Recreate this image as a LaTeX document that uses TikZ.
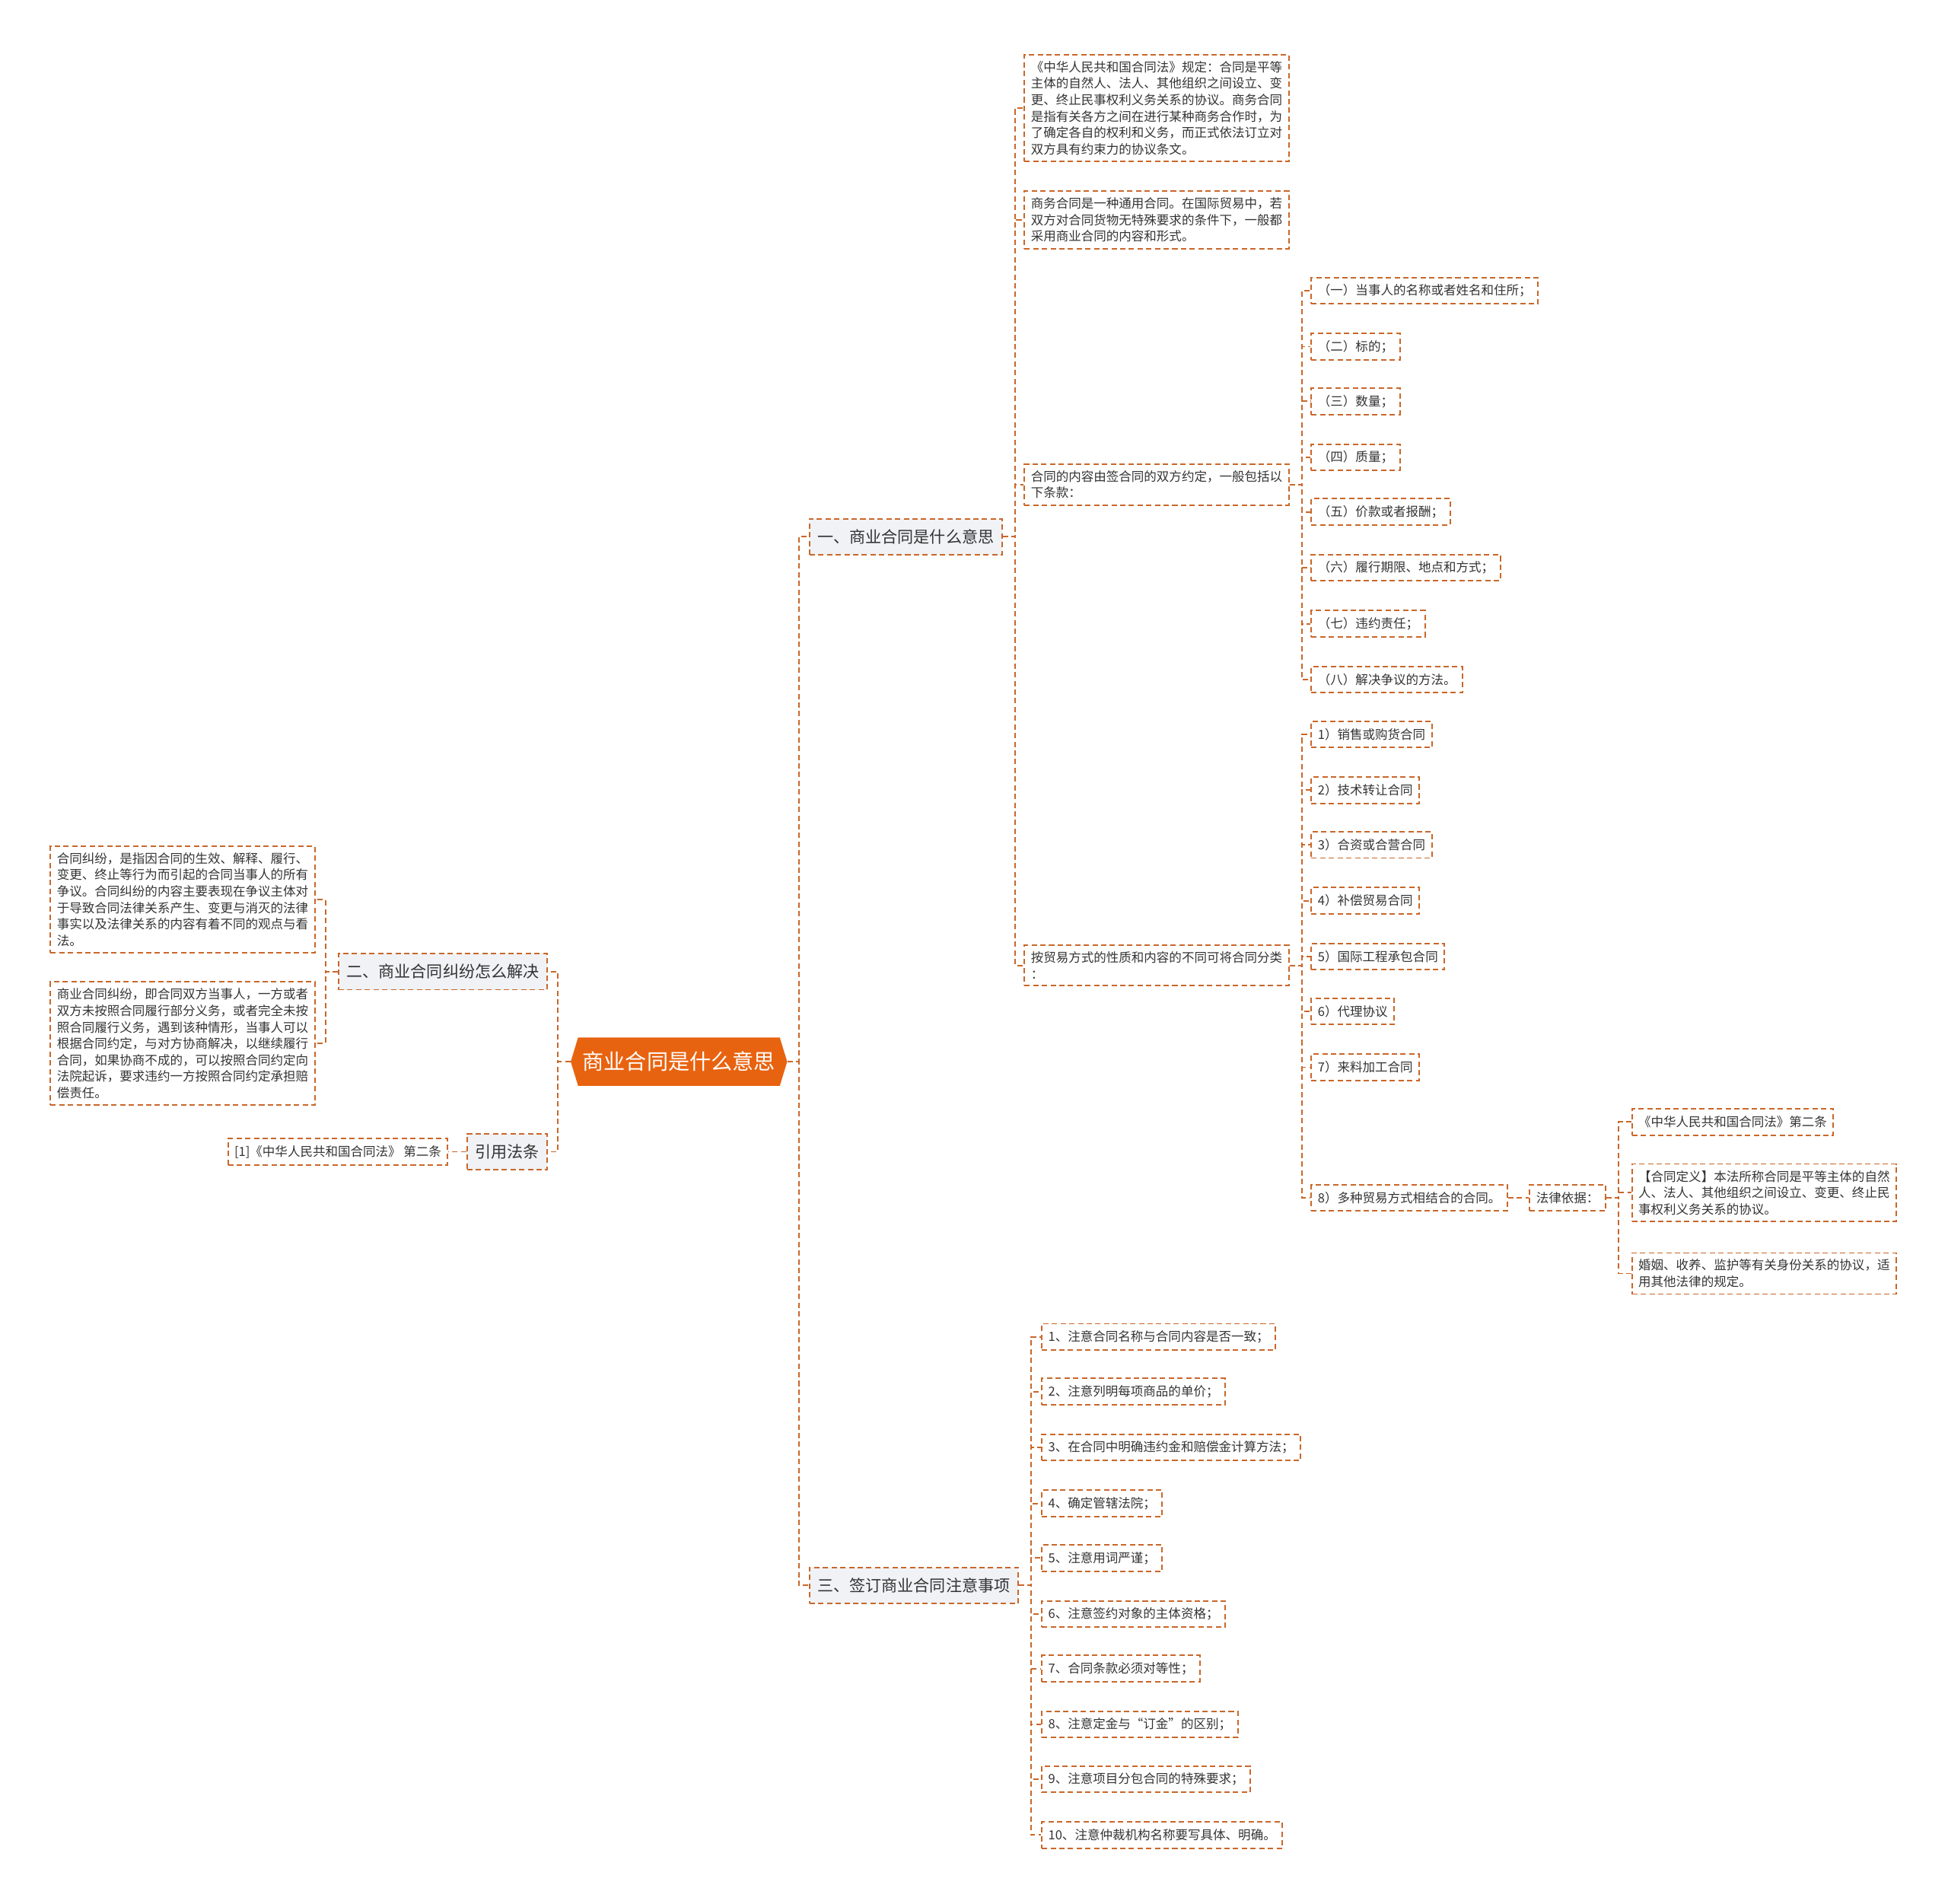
\documentclass[tikz,border=0pt]{standalone}
\usepackage{fontspec}
\setmainfont{Noto Sans CJK SC}
\usetikzlibrary{positioning, shapes.symbols}
\definecolor{rootfill}{RGB}{232,99,16}
\definecolor{lnk}{RGB}{201,103,42}
\definecolor{topicbg}{RGB}{240,242,245}
\definecolor{txt}{RGB}{51,51,51}

\begin{document}
\begin{tikzpicture}[
  x=0.032653cm, y=-0.032653cm,
  root/.style={signal, signal to=west and east, signal pointer angle=146, fill=rootfill, text=white, font=\fontsize{16}{19}\selectfont, minimum height=1.27cm, inner xsep=0.12cm},
  topic/.style={draw=lnk, line width=1.1pt, dash pattern=on 4pt off 2.5pt, fill=topicbg, text=txt, font=\fontsize{12}{14}\selectfont, minimum height=0.95cm, inner xsep=0.21cm},
  leaf/.style={draw=lnk, line width=1.1pt, dash pattern=on 4pt off 2.5pt, fill=white, text=txt, font=\fontsize{9.4}{12.3}\selectfont, minimum height=0.69cm, inner xsep=0.17cm, inner ysep=0.17cm, align=left},
  link/.style={draw=lnk, line width=1.1pt, dash pattern=on 4pt off 2.5pt}
]
\useasboundingbox (0,0) rectangle (1568,1532);
\fill[white] (0,0) rectangle (1568,1532);

\node[root] (root) at (546.5,854.5) {商业合同是什么意思};
\node[topic, anchor=west] (one) at (651,432) {一、商业合同是什么意思};
\node[topic, anchor=east] (two) at (441,782) {二、商业合同纠纷怎么解决};
\node[topic, anchor=east] (cite) at (441,927) {引用法条};
\node[topic, anchor=west] (three) at (651,1276) {三、签订商业合同注意事项};

% branch one
\node[leaf, anchor=west] (def) at (824,87) {《中华人民共和国合同法》规定：合同是平等\\主体的自然人、法人、其他组织之间设立、变\\更、终止民事权利义务关系的协议。商务合同\\是指有关各方之间在进行某种商务合作时，为\\了确定各自的权利和义务，而正式依法订立对\\双方具有约束力的协议条文。};
\node[leaf, anchor=west] (general) at (824,177) {商务合同是一种通用合同。在国际贸易中，若\\双方对合同货物无特殊要求的条件下，一般都\\采用商业合同的内容和形式。};
\node[leaf, anchor=west] (clause) at (824,390) {合同的内容由签合同的双方约定，一般包括以\\下条款：};
\node[leaf, anchor=west] (trade) at (824,777) {按贸易方式的性质和内容的不同可将合同分类\\：};

\node[leaf, anchor=west] (c1) at (1055,234) {（一）当事人的名称或者姓名和住所；};
\node[leaf, anchor=west] (c2) at (1055,279) {（二）标的；};
\node[leaf, anchor=west] (c3) at (1055,323) {（三）数量；};
\node[leaf, anchor=west] (c4) at (1055,368) {（四）质量；};
\node[leaf, anchor=west] (c5) at (1055,412) {（五）价款或者报酬；};
\node[leaf, anchor=west] (c6) at (1055,457) {（六）履行期限、地点和方式；};
\node[leaf, anchor=west] (c7) at (1055,502) {（七）违约责任；};
\node[leaf, anchor=west] (c8) at (1055,547) {（八）解决争议的方法。};

\node[leaf, anchor=west] (t1) at (1055,591) {1）销售或购货合同};
\node[leaf, anchor=west] (t2) at (1055,636) {2）技术转让合同};
\node[leaf, anchor=west] (t3) at (1055,680) {3）合资或合营合同};
\node[leaf, anchor=west] (t4) at (1055,725) {4）补偿贸易合同};
\node[leaf, anchor=west] (t5) at (1055,770) {5）国际工程承包合同};
\node[leaf, anchor=west] (t6) at (1055,814) {6）代理协议};
\node[leaf, anchor=west] (t7) at (1055,859) {7）来料加工合同};
\node[leaf, anchor=west] (t8) at (1055,964) {8）多种贸易方式相结合的合同。};
\node[leaf, right=0.55cm of t8] (basis) {法律依据：};

\node[leaf, anchor=west] (law1) at (1313,903) {《中华人民共和国合同法》第二条};
\node[leaf, anchor=west] (law2) at (1313,960) {【合同定义】本法所称合同是平等主体的自然\\人、法人、其他组织之间设立、变更、终止民\\事权利义务关系的协议。};
\node[leaf, anchor=west] (law3) at (1313,1025) {婚姻、收养、监护等有关身份关系的协议，适\\用其他法律的规定。};

% branch two
\node[leaf, anchor=east] (dispute) at (254,724) {合同纠纷，是指因合同的生效、解释、履行、\\变更、终止等行为而引起的合同当事人的所有\\争议。合同纠纷的内容主要表现在争议主体对\\于导致合同法律关系产生、变更与消灭的法律\\事实以及法律关系的内容有着不同的观点与看\\法。};
\node[leaf, anchor=east] (solve) at (254,840) {商业合同纠纷，即合同双方当事人，一方或者\\双方未按照合同履行部分义务，或者完全未按\\照合同履行义务，遇到该种情形，当事人可以\\根据合同约定，与对方协商解决，以继续履行\\合同，如果协商不成的，可以按照合同约定向\\法院起诉，要求违约一方按照合同约定承担赔\\偿责任。};
\node[leaf, anchor=east] (citeref) at (361,927) {[1]《中华人民共和国合同法》 第二条};

% branch three
\node[leaf, anchor=west] (n1) at (838,1076) {1、注意合同名称与合同内容是否一致；};
\node[leaf, anchor=west] (n2) at (838,1120) {2、注意列明每项商品的单价；};
\node[leaf, anchor=west] (n3) at (838,1165) {3、在合同中明确违约金和赔偿金计算方法；};
\node[leaf, anchor=west] (n4) at (838,1210) {4、确定管辖法院；};
\node[leaf, anchor=west] (n5) at (838,1254) {5、注意用词严谨；};
\node[leaf, anchor=west] (n6) at (838,1299) {6、注意签约对象的主体资格；};
\node[leaf, anchor=west] (n7) at (838,1343) {7、合同条款必须对等性；};
\node[leaf, anchor=west] (n8) at (838,1388) {8、注意定金与“订金”的区别；};
\node[leaf, anchor=west] (n9) at (838,1432) {9、注意项目分包合同的特殊要求；};
\node[leaf, anchor=west] (n10) at (838,1477) {10、注意仲裁机构名称要写具体、明确。};

% connectors
\draw[link] (root.east) -- ++(9,0) |- (one.west);
\draw[link] (root.east) -- ++(9,0) |- (three.west);
\draw[link] (root.west) -- ++(-10,0) |- (two.east);
\draw[link] (root.west) -- ++(-10,0) |- (cite.east);
\foreach \c in {def,general,clause,trade}
  \draw[link] (one.east) -- ++(10,0) |- (\c.west);
\foreach \i in {1,...,8}
  \draw[link] (clause.east) -- ++(10,0) |- (c\i.west);
\foreach \i in {1,...,8}
  \draw[link] (trade.east) -- ++(10,0) |- (t\i.west);
\draw[link] (t8) -- (basis);
\foreach \i in {1,2,3}
  \draw[link] (basis.east) -- ++(10,0) |- (law\i.west);
\foreach \c in {dispute,solve}
  \draw[link] (two.west) -- ++(-10,0) |- (\c.east);
\draw[link] (cite) -- (citeref);
\foreach \i in {1,...,10}
  \draw[link] (three.east) -- ++(10,0) |- (n\i.west);
\end{tikzpicture}
\end{document}
